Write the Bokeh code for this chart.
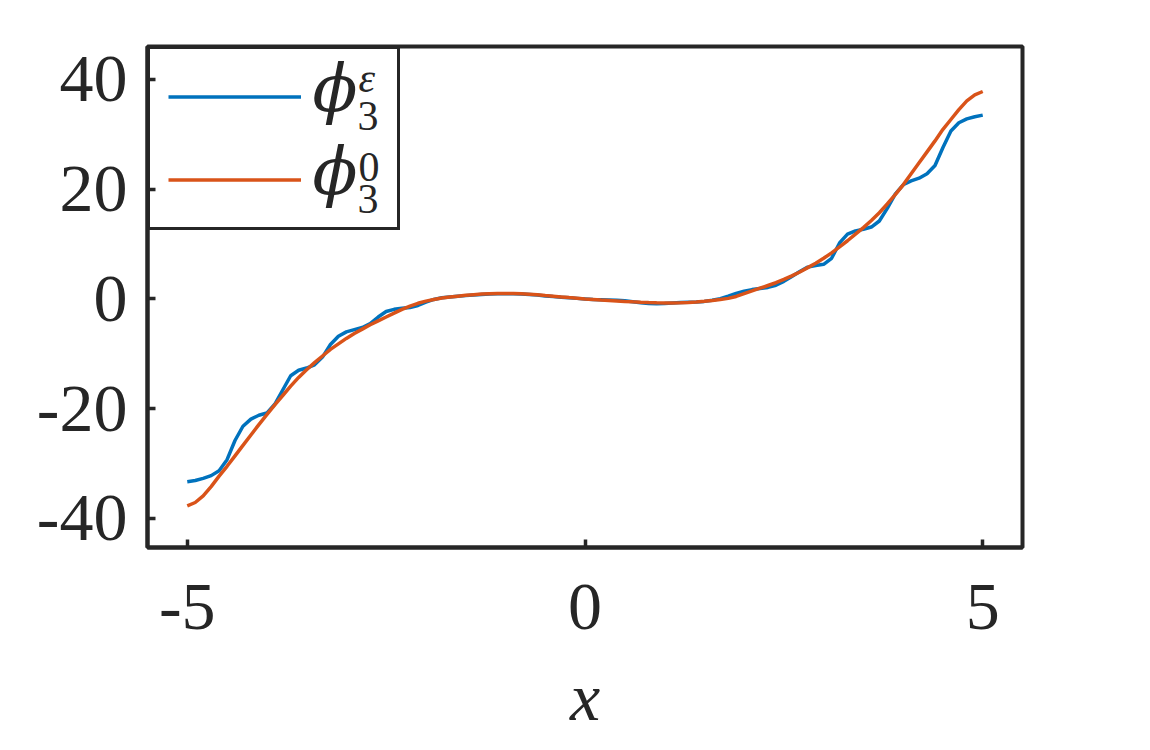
import numpy as np
from bokeh.plotting import figure
from bokeh.models import Range1d, FixedTicker, Legend, LegendItem, Label, PrintfTickFormatter
from bokeh.embed import file_html
from bokeh.resources import INLINE

# ---------------- data ----------------
x_vals = np.round(np.linspace(-5, 5, 101), 1)

phi_eps = [
    -33.3, -33.1, -32.7, -32.2, -31.3, -29.3, -25.8, -23.2, -21.9, -21.2,
    -20.8, -19.2, -16.6, -14.0, -13.0, -12.6, -12.0, -10.6, -8.3, -6.8,
    -6.0, -5.6, -5.2, -4.5, -3.3, -2.3, -1.9, -1.7, -1.55, -1.2,
    -0.6, -0.1, 0.2, 0.35, 0.5, 0.6, 0.7, 0.8, 0.88, 0.93,
    0.95, 0.93, 0.88, 0.8, 0.7, 0.55, 0.42, 0.3, 0.2, 0.1,
    0.0,
    -0.1, -0.15, -0.2, -0.25, -0.35, -0.5, -0.7, -0.85, -0.9, -0.85,
    -0.75, -0.65, -0.6, -0.55, -0.45, -0.25, 0.05, 0.5, 1.0, 1.4,
    1.7, 1.9, 2.1, 2.5, 3.2, 4.1, 5.0, 5.8, 6.1, 6.3,
    7.4, 10.2, 11.8, 12.4, 12.7, 13.1, 14.2, 16.5, 19.1, 20.8,
    21.5, 22.0, 22.8, 24.3, 27.6, 30.6, 32.1, 32.8, 33.2, 33.5,
]

phi_0 = [
    -37.7, -37.1, -35.9, -34.2, -32.3, -30.5, -28.6, -26.7, -24.8, -22.9,
    -21.1, -19.3, -17.6, -15.9, -14.3, -12.9, -11.6, -10.4, -9.2, -8.2,
    -7.2, -6.3, -5.5, -4.7, -4.0, -3.3, -2.6, -1.9, -1.3, -0.8,
    -0.4, -0.1, 0.15, 0.35, 0.5, 0.65, 0.78, 0.88, 0.93, 0.97,
    0.98, 0.97, 0.92, 0.85, 0.75, 0.62, 0.5, 0.37, 0.24, 0.12,
    0.0,
    -0.1, -0.2, -0.28, -0.36, -0.45, -0.53, -0.6, -0.66, -0.7, -0.73,
    -0.73, -0.7, -0.64, -0.55, -0.43, -0.28, -0.1, 0.1, 0.45, 0.95,
    1.45, 1.95, 2.45, 2.95, 3.55, 4.2, 4.9, 5.7, 6.5, 7.4,
    8.4, 9.5, 10.6, 11.8, 13.0, 14.3, 15.7, 17.3, 19.0, 20.8,
    22.8, 24.8, 26.8, 28.8, 30.9, 32.7, 34.5, 36.1, 37.2, 37.8,
]

x_ticks = [-5, 0, 5]
y_ticks = [-40, -20, 0, 20, 40]
x_label = "x"

# ---------------- styling ----------------
BLUE = "#0072BD"
ORANGE = "#D95319"
AX = "#262626"
FONT = "Liberation Serif"

X0, X1 = -5.5, 5.5
Y0, Y1 = -45.3, 46.0
FRAME_L, FRAME_T, FRAME_W, FRAME_H = 147, 46, 875, 501

p = figure(
    frame_width=FRAME_W, frame_height=FRAME_H,
    min_border_left=FRAME_L, min_border_top=FRAME_T,
    min_border_right=110, min_border_bottom=190,
    x_range=Range1d(X0, X1), y_range=Range1d(Y0, Y1),
    output_backend="svg", toolbar_location=None,
)
p.grid.visible = False
p.background_fill_color = "white"
p.border_fill_color = "white"
p.outline_line_color = AX
p.outline_line_width = 4
p.outline_line_alpha = 1.0

for ax in (p.xaxis[0], p.yaxis[0]):
    ax.axis_line_color = AX
    ax.axis_line_width = 4
    ax.major_tick_line_color = AX
    ax.major_tick_line_width = 3.5
    ax.major_tick_in = 8
    ax.major_tick_out = 0
    ax.minor_tick_line_color = None
    ax.major_label_text_font = FONT
    ax.major_label_text_font_size = "68px"
    ax.major_label_text_color = AX
    ax.formatter = PrintfTickFormatter(format="%d")

p.xaxis.ticker = FixedTicker(ticks=x_ticks)
p.yaxis.ticker = FixedTicker(ticks=y_ticks)
p.xaxis.major_label_standoff = 37
p.yaxis.major_label_standoff = 20
p.xaxis.axis_label = x_label
p.xaxis.axis_label_text_font = FONT
p.xaxis.axis_label_text_font_style = "italic"
p.xaxis.axis_label_text_font_size = "68px"
p.xaxis.axis_label_text_color = AX
p.xaxis.axis_label_standoff = 27

r_eps = p.line(x_vals, phi_eps, line_color=BLUE, line_width=3.5)
r_0 = p.line(x_vals, phi_0, line_color=ORANGE, line_width=3.5)

legend = Legend(
    items=[LegendItem(label=" ", renderers=[r_eps]),
           LegendItem(label=" ", renderers=[r_0])],
    location="top_left", margin=0, padding=18, spacing=24,
    glyph_width=133, glyph_height=59, label_height=59, label_width=68,
    label_standoff=10, label_text_font_size="10px",
    border_line_color=AX, border_line_width=3.5, border_line_alpha=1.0,
    background_fill_alpha=0.0,
)
p.add_layout(legend)


def fx(px):
    return X0 + (px - FRAME_L) / FRAME_W * (X1 - X0)


def fy(py):
    return Y1 - (py - FRAME_T) / FRAME_H * (Y1 - Y0)


legend_texts = [
    # (text, left px, requested baseline px, size, style, font)
    ("\u03d5", 312, 88, "66px", "italic", "DejaVu Serif"),
    ("3", 357, 115, "42px", "normal", FONT),
    ("\u03b5", 358, 77, "42px", "italic", FONT),
    ("\u03d5", 312, 171, "66px", "italic", "DejaVu Serif"),
    ("3", 357, 198, "42px", "normal", FONT),
    ("0", 358, 166, "42px", "normal", FONT),
]
for t, lx, by, size, style, font in legend_texts:
    p.add_layout(Label(x=fx(lx), y=fy(by), text=t, text_font=font,
                       text_font_size=size, text_font_style=style,
                       text_color=AX, text_align="left",
                       text_baseline="alphabetic"))

open("out.html", "w").write(file_html(p, INLINE))
